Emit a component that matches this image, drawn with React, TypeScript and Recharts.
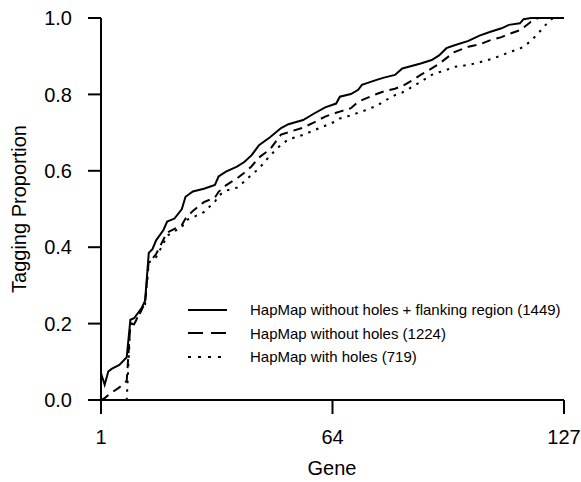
import { LineChart, Line, XAxis, YAxis, Legend, Label } from 'recharts';

const genes = [1, 2, 3, 4, 6, 8, 9, 10, 12, 13, 14, 15, 16, 18, 19, 21, 23, 24, 26, 29, 32, 33, 35, 38, 40, 42, 44, 47, 50, 52, 56, 59, 62, 65, 66, 69, 71, 72, 76, 78, 81, 83, 85, 88, 91, 93, 95, 97, 101, 104, 107, 110, 112, 115, 116, 118, 120, 122, 124, 127];

const flanking = [0.07, 0.04, 0.075, 0.082, 0.092, 0.112, 0.21, 0.214, 0.24, 0.26, 0.385, 0.395, 0.418, 0.445, 0.467, 0.475, 0.5, 0.532, 0.546, 0.553, 0.563, 0.585, 0.598, 0.611, 0.623, 0.641, 0.667, 0.688, 0.712, 0.722, 0.733, 0.75, 0.766, 0.776, 0.794, 0.801, 0.812, 0.825, 0.838, 0.844, 0.851, 0.868, 0.873, 0.881, 0.89, 0.902, 0.921, 0.928, 0.94, 0.954, 0.964, 0.973, 0.982, 0.986, 0.997, 1, 1, 1, 1, 1];

const withoutHoles = [0, 0.005, 0.013, 0.02, 0.033, 0.05, 0.2, 0.198, 0.235, 0.255, 0.365, 0.37, 0.382, 0.42, 0.438, 0.448, 0.458, 0.475, 0.495, 0.518, 0.53, 0.545, 0.562, 0.58, 0.595, 0.612, 0.635, 0.656, 0.695, 0.701, 0.713, 0.727, 0.742, 0.752, 0.755, 0.764, 0.781, 0.785, 0.801, 0.808, 0.815, 0.822, 0.833, 0.851, 0.868, 0.88, 0.895, 0.91, 0.925, 0.931, 0.942, 0.95, 0.958, 0.968, 0.975, 0.99, 1, 1, 1, 1];

const withHoles = [0, 0, 0, 0, 0, 0, 0.2, 0.2, 0.235, 0.25, 0.36, 0.365, 0.374, 0.41, 0.43, 0.442, 0.452, 0.47, 0.478, 0.492, 0.519, 0.535, 0.548, 0.556, 0.572, 0.59, 0.606, 0.64, 0.668, 0.682, 0.694, 0.706, 0.718, 0.73, 0.737, 0.745, 0.752, 0.755, 0.77, 0.782, 0.798, 0.805, 0.816, 0.833, 0.851, 0.858, 0.864, 0.872, 0.877, 0.884, 0.892, 0.902, 0.91, 0.92, 0.925, 0.94, 0.96, 0.982, 1, 1];

const xTicks = [1, 64, 127];
const yTicks = [0, 0.2, 0.4, 0.6, 0.8, 1.0];

const series = [
    { key: 'flanking', name: 'HapMap without holes + flanking region (1449)', dash: undefined, legendDash: undefined },
    { key: 'withoutHoles', name: 'HapMap without holes (1224)', dash: '9 6', legendDash: '15 8' },
    { key: 'withHoles', name: 'HapMap with holes (719)', dash: '2.5 6', legendDash: '3 7' },
];

const data = genes.map((g, i) => ({
    gene: g,
    flanking: flanking[i],
    withoutHoles: withoutHoles[i],
    withHoles: withHoles[i],
}));

const font = "'Liberation Sans', Arial, sans-serif";

function LegendBox() {
    return (
        <div style={{ fontFamily: font, fontSize: 15, color: '#000', textAlign: 'left' }}>
            {series.map((s) => (
                <div key={s.key} style={{ display: 'flex', alignItems: 'center', height: 23.5 }}>
                    <svg width={40} height={6} style={{ marginRight: 22 }}>
                        <line x1={0} y1={3} x2={39} y2={3} stroke="#000" strokeWidth={2} strokeDasharray={s.legendDash} />
                    </svg>
                    <span>{s.name}</span>
                </div>
            ))}
        </div>
    );
}

export default function App() {
    return (
        <div style={{ position: 'absolute', left: 0, top: 0, background: '#fff' }}>
            <LineChart width={581} height={482} data={data} margin={{ top: 18, right: 17, bottom: 32, left: 0 }}>
                <XAxis
                    dataKey="gene"
                    type="number"
                    domain={[1, 127]}
                    ticks={xTicks}
                    height={50}
                    tickSize={14}
                    tickMargin={16}
                    stroke="#000"
                    strokeWidth={2}
                    tick={{ fill: '#000', fontSize: 20, fontFamily: font }}
                >
                    <Label
                        content={() => (
                            <text x={332} y={475} textAnchor="middle" fontSize={20} fontFamily={font} fill="#000">Gene</text>
                        )}
                    />
                </XAxis>
                <YAxis
                    type="number"
                    domain={[0, 1]}
                    ticks={yTicks}
                    width={101}
                    tickSize={13}
                    tickMargin={16}
                    stroke="#000"
                    strokeWidth={2}
                    tickFormatter={(v: number) => v.toFixed(1)}
                    tick={{ fill: '#000', fontSize: 20, fontFamily: font }}
                >
                    <Label
                        content={() => (
                            <text x={26} y={209} transform="rotate(-90, 26, 209)" textAnchor="middle" fontSize={20} fontFamily={font} fill="#000">Tagging Proportion</text>
                        )}
                    />
                </YAxis>
                <Legend
                    layout="vertical"
                    align="center"
                    verticalAlign="middle"
                    content={() => <LegendBox />}
                    wrapperStyle={{ position: 'absolute', left: 188, top: 298, width: 380 }}
                />
                {series.map((s) => (
                    <Line
                        key={s.key}
                        dataKey={s.key}
                        name={s.name}
                        type="linear"
                        stroke="#000"
                        strokeWidth={2}
                        strokeDasharray={s.dash}
                        dot={false}
                        isAnimationActive={false}
                    />
                ))}
            </LineChart>
        </div>
    );
}
